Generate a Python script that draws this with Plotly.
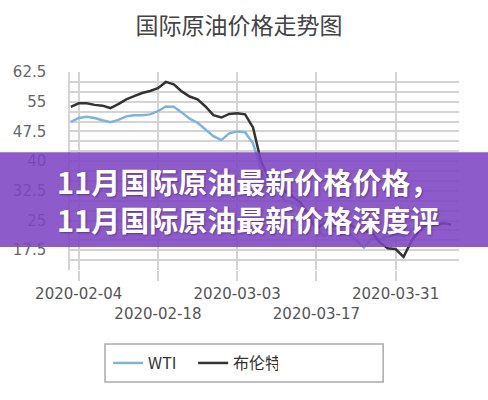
import plotly.graph_objects as go

# Trading days shown on the x axis
dates = [
    '2020-02-03', '2020-02-04', '2020-02-05', '2020-02-06', '2020-02-07',
    '2020-02-10', '2020-02-11', '2020-02-12', '2020-02-13', '2020-02-14',
    '2020-02-17', '2020-02-18', '2020-02-19', '2020-02-20', '2020-02-21',
    '2020-02-24', '2020-02-25', '2020-02-26', '2020-02-27', '2020-02-28',
    '2020-03-02', '2020-03-03', '2020-03-04', '2020-03-05', '2020-03-06',
    '2020-03-09', '2020-03-10', '2020-03-11', '2020-03-12', '2020-03-13',
    '2020-03-16', '2020-03-17', '2020-03-18', '2020-03-19', '2020-03-20',
    '2020-03-23', '2020-03-24', '2020-03-25', '2020-03-26', '2020-03-27',
    '2020-03-30', '2020-03-31', '2020-04-01', '2020-04-02', '2020-04-03',
    '2020-04-06', '2020-04-07', '2020-04-08', '2020-04-09',
]

# Prices
wti = [
    49.9, 50.9, 51.2, 50.9, 50.3, 49.8, 50.4, 51.3, 51.6, 51.6,
    51.8, 52.6, 53.8, 53.7, 52.3, 50.7, 49.7, 48.0, 46.3, 45.3,
    47.0, 47.5, 47.3, 44.5, 38.0, 31.5, 33.0, 30.0, 29.5, 28.5,
    25.5, 23.0, 21.0, 22.5, 21.5, 22.0, 20.0, 18.2, 20.5, 20.3,
    20.8, 21.5, 21.0, 22.5, 24.0, 24.5, 23.8, 24.3, 24.0,
]
brent = [
    53.7, 54.6, 54.6, 54.2, 54.0, 53.4, 54.4, 55.6, 56.4, 57.2,
    57.7, 58.4, 60.0, 59.4, 57.6, 56.3, 55.6, 53.8, 51.6, 51.0,
    51.9, 52.1, 51.8, 48.5, 40.0, 35.5, 36.0, 32.5, 31.0, 29.5,
    26.5, 22.8, 24.5, 23.5, 23.8, 24.2, 23.0, 22.4, 22.0, 19.5,
    18.0, 17.8, 15.8, 19.8, 22.5, 24.0, 23.8, 24.3, 24.0,
]

# Axis ticks (every other date label drops to a second row)
x_ticks = ['2020-02-04', '2020-02-18', '2020-03-03', '2020-03-17', '2020-03-31']
x_tick_text = ['2020-02-04', '<br>2020-02-18', '2020-03-03', '<br>2020-03-17', '2020-03-31']
y_ticks = [17.5, 25, 32.5, 40, 47.5, 55, 62.5]
y_tick_text = ['17.5', '25', '32.5', '40', '47.5', '55', '62.5']

banner_text = '11月国际原油最新价格价格，<br>11月国际原油最新价格深度评'

grid = '#d4d4d4'

fig = go.Figure()
fig.add_trace(go.Scatter(x=dates, y=wti, mode='lines', name='WTI',
                         line=dict(color='#7fb3dc', width=2.5)))
fig.add_trace(go.Scatter(x=dates, y=brent, mode='lines', name='布伦特',
                         line=dict(color='#333333', width=2.5)))

fig.update_layout(
    width=488, height=400,
    margin=dict(l=70, r=29, t=72, b=130),
    paper_bgcolor='white', plot_bgcolor='white',
    font=dict(family='DejaVu Sans', color='#555555'),
    title=dict(text='国际原油价格走势图', x=0.49, xanchor='center', y=0.935, yanchor='middle',
               font=dict(family='Noto Sans CJK SC', size=23, color='#444444')),
    xaxis=dict(type='category', range=[-0.1, 49], tickvals=x_ticks, ticktext=x_tick_text,
               tickangle=0, automargin=False,
               showgrid=True, gridcolor=grid, gridwidth=1.5,
               ticks='outside', ticklen=10, tickcolor=grid, tickwidth=1.5,
               tickfont=dict(size=15, color='#555555'), zeroline=False),
    yaxis=dict(range=[12.5, 62.5], tickvals=y_ticks, ticktext=y_tick_text, automargin=False,
               showgrid=True, gridcolor=grid, gridwidth=1.5,
               minor=dict(tick0=12.5, dtick=2.5, showgrid=True, gridcolor=grid, gridwidth=1.5),
               showline=True, linecolor=grid, linewidth=1.5,
               ticks='', ticklabelstandoff=19,
               tickfont=dict(size=15, color='#666666'), zeroline=False),
    showlegend=True,
    legend=dict(orientation='h', x=0.098, xanchor='left', y=-0.47, yanchor='middle',
                font=dict(family='Noto Sans CJK SC', size=16, color='#333333'),
                bgcolor='rgba(0,0,0,0)', borderwidth=0, entrywidth=40),
)

# Legend frame
fig.add_shape(type='rect', xref='paper', yref='paper', x0=0.09, x1=0.805, y0=-0.566, y1=-0.374,
              line=dict(color='#aaaaaa', width=1.5), fillcolor='rgba(0,0,0,0)', layer='above')

# Purple banner across the middle
fig.add_shape(type='rect', xref='paper', yref='paper', x0=-0.19, x1=1.08, y0=0.116, y1=0.595,
              line=dict(width=0), fillcolor='rgba(125,70,195,0.88)', layer='above')

fig.add_annotation(text=banner_text, xref='paper', yref='paper',
                   x=0.4576, y=0.3555, xanchor='center', yanchor='middle', align='center',
                   showarrow=False,
                   font=dict(family='Noto Sans CJK SC', size=29, color='white', weight='bold',
                             shadow='1px 1px 2px rgba(50,20,90,0.5)'))

# drop the default page margin so the figure sits at the window's corner
fig.write_html("out.html", config={'displayModeBar': False},
               post_script="document.body.style.margin='0';")
